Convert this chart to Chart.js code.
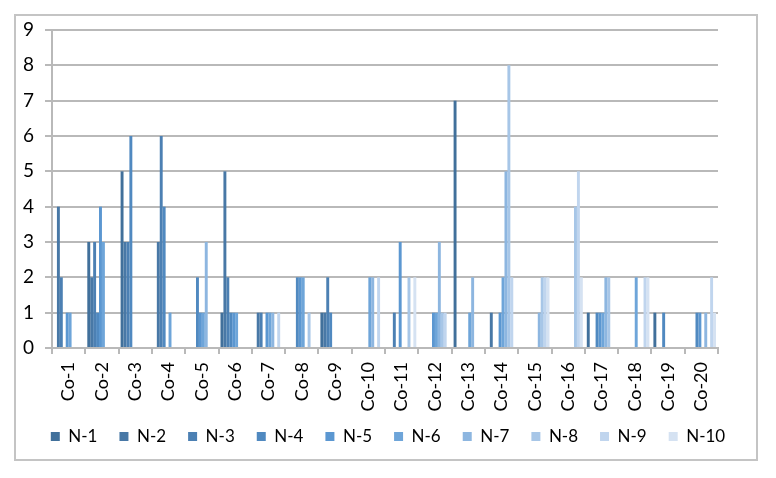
<!DOCTYPE html>
<html>
<head>
<meta charset="utf-8">
<script src="https://cdn.jsdelivr.net/npm/chart.js@4"></script>
<style>
  html, body { margin: 0; padding: 0; background: #fff; }
  #wrap { width: 776px; height: 478px; }
</style>
</head>
<body>
<div id="wrap"><canvas id="barChart" width="776" height="478"></canvas></div>
<script>
// categories and series values
var categories = ["Co-1", "Co-2", "Co-3", "Co-4", "Co-5", "Co-6", "Co-7", "Co-8", "Co-9", "Co-10",
  "Co-11", "Co-12", "Co-13", "Co-14", "Co-15", "Co-16", "Co-17", "Co-18", "Co-19", "Co-20"];
var seriesNames = ["N-1", "N-2", "N-3", "N-4", "N-5", "N-6", "N-7", "N-8", "N-9", "N-10"];

var n1 = [0, 3, 5, 0, 0, 1, 0, 0, 1, 0, 0, 0, 7, 0, 0, 0, 1, 0, 1, 0];
var n2 = [4, 2, 3, 3, 0, 5, 1, 0, 1, 0, 0, 0, 0, 1, 0, 0, 0, 0, 0, 0];
var n3 = [2, 3, 3, 6, 0, 2, 1, 0, 2, 0, 1, 0, 0, 0, 0, 0, 0, 0, 0, 0];
var n4 = [0, 1, 6, 4, 2, 1, 0, 2, 1, 0, 0, 0, 0, 0, 0, 0, 1, 0, 1, 1];
var n5 = [1, 4, 0, 0, 1, 1, 1, 2, 0, 0, 3, 1, 0, 1, 0, 0, 1, 0, 0, 1];
var n6 = [1, 3, 0, 1, 1, 1, 1, 2, 0, 2, 0, 1, 1, 2, 0, 0, 1, 2, 0, 0];
var n7 = [0, 0, 0, 0, 3, 0, 1, 0, 0, 2, 0, 3, 2, 5, 1, 0, 2, 0, 0, 1];
var n8 = [0, 0, 0, 0, 0, 0, 0, 1, 0, 0, 2, 1, 0, 8, 2, 4, 2, 0, 0, 0];
var n9 = [0, 0, 0, 0, 0, 0, 1, 0, 0, 2, 0, 1, 0, 2, 2, 5, 0, 2, 0, 2];
var n10 = [0, 0, 0, 0, 0, 0, 0, 0, 0, 0, 2, 0, 0, 0, 2, 2, 0, 2, 0, 1];

var seriesValues = [n1, n2, n3, n4, n5, n6, n7, n8, n9, n10];
var seriesColors = ["#41709b", "#4878a6", "#4c80b3", "#5089c0", "#5b97d1", "#6ea5d9",
  "#8db6e0", "#a7c6e7", "#c0d5ee", "#d5e2f2"];

var gridGray = "#b9b9b9";
var fontFamily = "Lato, 'Liberation Sans', sans-serif";

// light frame round the whole chart, and legend pulled up a little
var framePlugin = {
  id: "frame",
  afterLayout: function (chart) {
    chart.legend.top -= 8;
  },
  beforeDraw: function (chart) {
    var c = chart.ctx;
    c.save();
    c.fillStyle = "#fff";
    c.fillRect(0, 0, chart.width, chart.height);
    c.strokeStyle = "#c4c4c4";
    c.lineWidth = 2;
    c.strokeRect(15, 15, 742, 445);
    c.restore();
  }
};

var ctx = document.getElementById("barChart").getContext("2d");

new Chart(ctx, {
  type: "bar",
  data: {
    labels: categories,
    datasets: seriesNames.map(function (name, i) {
      return {
        label: name,
        data: seriesValues[i],
        backgroundColor: seriesColors[i],
        borderWidth: 0,
        barPercentage: 1,
        categoryPercentage: 0.88
      };
    })
  },
  options: {
    responsive: false,
    animation: false,
    layout: { padding: { left: 0, right: 0, top: 30, bottom: 15 } },
    plugins: {
      tooltip: { enabled: false },
      legend: {
        position: "bottom",
        labels: {
          boxWidth: 9,
          boxHeight: 9,
          padding: 22,
          color: "#000",
          font: { family: fontFamily, size: 17 }
        }
      }
    },
    scales: {
      x: {
        grid: { drawOnChartArea: false, drawTicks: true, tickLength: 6, color: gridGray, lineWidth: 2 },
        border: { color: gridGray, width: 2 },
        ticks: {
          minRotation: 90,
          maxRotation: 90,
          padding: 8,
          color: "#000",
          font: { family: fontFamily, size: 18 }
        },
        afterFit: function (scale) { scale.height = 66; }
      },
      y: {
        min: 0,
        max: 9,
        grid: { color: gridGray, lineWidth: 2, tickLength: 7 },
        border: { color: gridGray, width: 2 },
        ticks: {
          stepSize: 1,
          padding: 11,
          color: "#000",
          font: { family: fontFamily, size: 19 }
        },
        afterFit: function (scale) { scale.width = 52; }
      },
      // empty right-hand scale that only keeps space free beside the plot
      yRight: {
        position: "right",
        min: 0,
        max: 9,
        grid: { drawOnChartArea: false, drawTicks: false },
        border: { display: false },
        ticks: { display: false },
        afterFit: function (scale) { scale.width = 58; }
      }
    }
  },
  plugins: [framePlugin]
});
</script>
</body>
</html>
